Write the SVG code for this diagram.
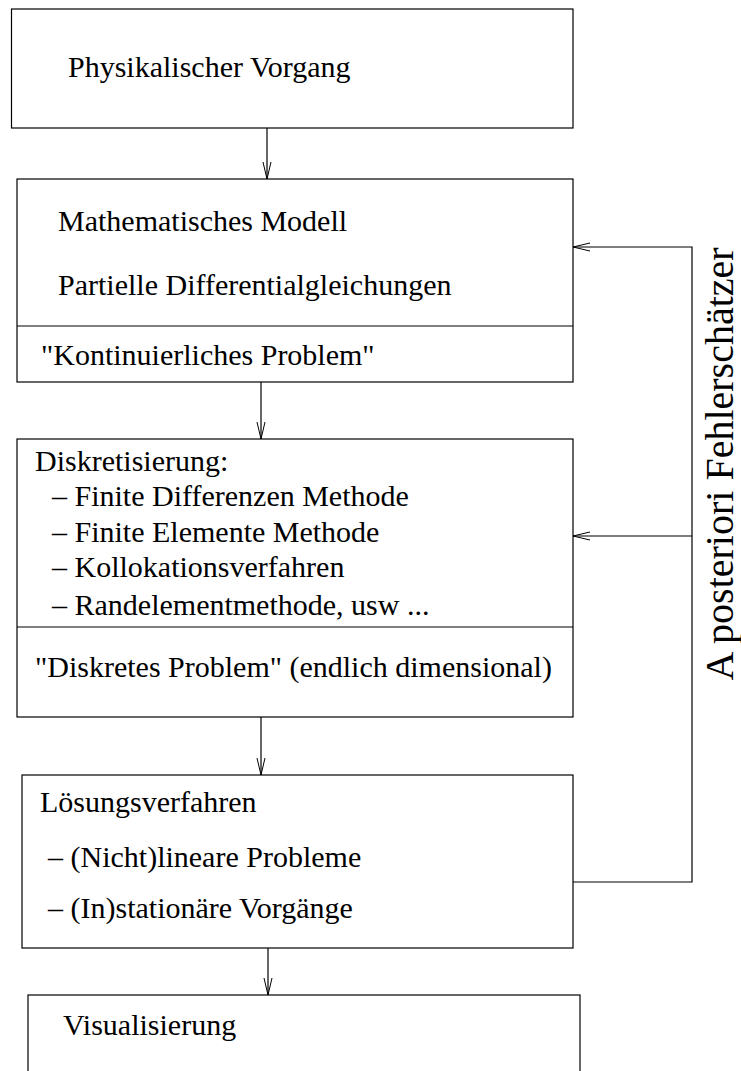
<svg xmlns="http://www.w3.org/2000/svg" width="741" height="1071" viewBox="0 0 741 1071">
<style>
.box{fill:#fff;stroke:#000;stroke-width:1.2}
.ln{fill:none;stroke:#000;stroke-width:1.2}
.t{font-family:"Liberation Serif","Times New Roman",serif;font-size:30px;fill:#000}
</style>
<defs>
<marker id="ah" markerWidth="20" markerHeight="12" refX="17" refY="5" orient="auto" markerUnits="userSpaceOnUse" viewBox="0 0 20 10">
<path d="M0,1 L17,5 L0,9" fill="none" stroke="#000" stroke-width="1"/>
</marker>
</defs>
<rect width="741" height="1071" fill="#fff"/>
<g id="n1">
<rect class="box" x="11.5" y="9" width="561.5" height="119"/>
<text class="t" x="68" y="77">Physikalischer Vorgang</text>
</g>
<g id="n2">
<rect class="box" x="17" y="179" width="556" height="203"/>
<line class="ln" x1="17" y1="326" x2="573" y2="326"/>
<text class="t" x="58" y="231">Mathematisches Modell</text>
<text class="t" x="58" y="295">Partielle Differentialgleichungen</text>
<text class="t" x="41" y="365">"Kontinuierliches Problem"</text>
</g>
<g id="n3">
<rect class="box" x="17" y="439" width="556" height="278"/>
<line class="ln" x1="17" y1="627" x2="573" y2="627"/>
<text class="t" x="35" y="471">Diskretisierung:</text>
<text class="t" x="52" y="506">– Finite Differenzen Methode</text>
<text class="t" x="52" y="542">– Finite Elemente Methode</text>
<text class="t" x="52" y="577">– Kollokationsverfahren</text>
<text class="t" x="52" y="615">– Randelementmethode, usw ...</text>
<text class="t" x="35" y="677">"Diskretes Problem" (endlich dimensional)</text>
</g>
<g id="n4">
<rect class="box" x="22" y="775" width="551" height="173"/>
<text class="t" x="40" y="812">Lösungsverfahren</text>
<text class="t" x="48" y="867">– (Nicht)lineare Probleme</text>
<text class="t" x="48" y="918">– (In)stationäre Vorgänge</text>
</g>
<g id="n5">
<rect class="box" x="28" y="995" width="552" height="90"/>
<text class="t" x="63" y="1035">Visualisierung</text>
</g>
<g id="edges">
<line class="ln" x1="267" y1="128" x2="267" y2="179" marker-end="url(#ah)"/>
<line class="ln" x1="261" y1="382" x2="261" y2="439" marker-end="url(#ah)"/>
<line class="ln" x1="261" y1="717" x2="261" y2="775" marker-end="url(#ah)"/>
<line class="ln" x1="268" y1="948" x2="268" y2="995" marker-end="url(#ah)"/>
<polyline class="ln" points="573,882 692,882 692,247 573,247" marker-end="url(#ah)"/>
<line class="ln" x1="692" y1="536" x2="573" y2="536" marker-end="url(#ah)"/>
</g>
<g id="label">
<text class="t" style="font-size:40px" text-anchor="middle" transform="translate(733,464) rotate(-90)">A posteriori Fehlerschätzer</text>
</g>
</svg>
